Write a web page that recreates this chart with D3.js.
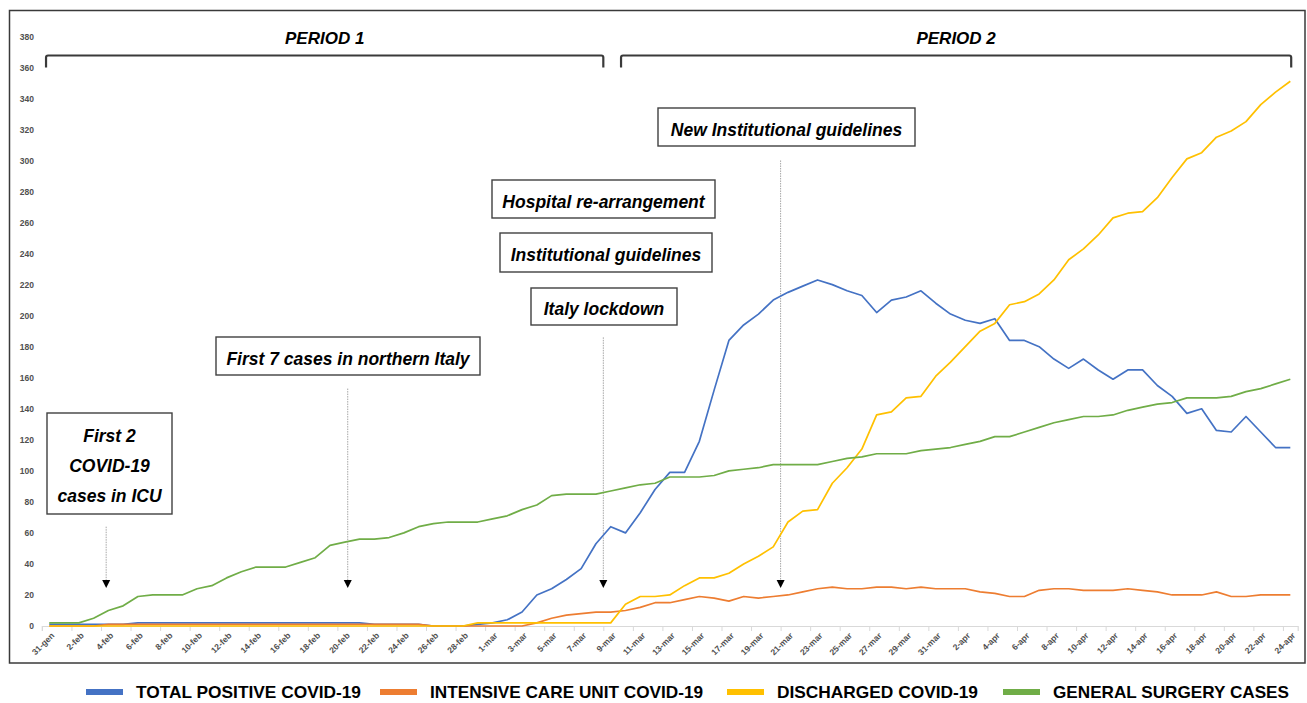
<!DOCTYPE html>
<meta charset="utf-8">

<head>
  <title>COVID-19 and general surgery</title>
  <style>
    body {
      margin: 0;
      background: #fff;
    }

    svg {
      display: block;
      font-family: 'Liberation Sans', Arial, sans-serif;
    }
  </style>

  <script src="https://d3js.org/d3.v7.min.js"></script>
</head>

<body>
  <div id="content">
    <svg width="1307" height="703"></svg>
  </div>

  <script>
    // categories: one per day, 31 Jan - 24 Apr 2020
    var monthNames = ['gen', 'feb', 'mar', 'apr'];
    var days = d3.timeDay.range(new Date(2020, 0, 31), new Date(2020, 3, 25));
    var categories = days.map(function (d) { return d.getDate() + '-' + monthNames[d.getMonth()]; });

    // series values
    var totalPositive = [1, 1, 1, 1, 1, 1, 2, 2, 2, 2, 2, 2, 2, 2, 2, 2, 2, 2, 2, 2, 2, 2, 1, 1, 1, 1, 0, 0, 0, 1,
      2, 4, 9, 20, 24, 30, 37, 53, 64, 60, 73, 88, 99, 99, 119, 152, 184, 194, 201, 210, 215, 219, 223, 220, 216,
      213, 202, 210, 212, 216, 208, 201, 197, 195, 198, 184, 184, 180, 172, 166, 172, 165, 159, 165, 165, 155,
      148, 137, 140, 126, 125, 135, 125, 115, 115];
    var icu = [0, 0, 0, 0, 1, 1, 1, 1, 1, 1, 1, 1, 1, 1, 1, 1, 1, 1, 1, 1, 1, 1, 1, 1, 1, 1, 0, 0, 0, 0, 0, 0, 0,
      2, 5, 7, 8, 9, 9, 10, 12, 15, 15, 17, 19, 18, 16, 19, 18, 19, 20, 22, 24, 25, 24, 24, 25, 25, 24, 25, 24,
      24, 24, 22, 21, 19, 19, 23, 24, 24, 23, 23, 23, 24, 23, 22, 20, 20, 20, 22, 19, 19, 20, 20, 20];
    var discharged = [0, 0, 0, 0, 0, 0, 0, 0, 0, 0, 0, 0, 0, 0, 0, 0, 0, 0, 0, 0, 0, 0, 0, 0, 0, 0, 0, 0, 0,
      2, 2, 2, 2, 2, 2, 2, 2, 2, 2,
      14, 19, 19, 20, 26, 31, 31, 34, 40, 45, 51, 67, 74, 75, 92, 102, 114, 136, 138, 147, 148, 161, 170, 180,
      190, 195, 207, 209, 214, 223, 236, 243, 252, 263, 266, 267, 276, 289, 301, 305, 315, 319, 325, 336, 344, 351];
    var surgery = [2, 2, 2, 5, 10, 13, 19, 20, 20, 20, 24, 26, 31, 35, 38, 38, 38, 41, 44, 52,
      54, 56, 56, 57, 60, 64, 66, 67, 67, 67, 69, 71, 75, 78, 84, 85, 85, 85, 87, 89,
      91, 92, 96, 96, 96, 97, 100, 101, 102, 104, 104, 104, 104, 106, 108, 109, 111, 111, 111, 113,
      114, 115, 117, 119, 122, 122, 125, 128, 131, 133, 135, 135, 136, 139, 141, 143, 144, 147, 147, 147,
      148, 151, 153, 156, 159];

    var seriesNames = ['TOTAL POSITIVE COVID-19', 'INTENSIVE CARE UNIT COVID-19', 'DISCHARGED COVID-19', 'GENERAL SURGERY CASES'];
    var seriesColors = ['#4472C4', '#ED7D31', '#FFC000', '#70AD47'];
    var seriesValues = [totalPositive, icu, discharged, surgery];

    var yTicks = d3.range(0, 381, 20);

    // annotations: arrows (day index, value range) and boxes
    var arrows = [
      { day: 3.85, from: 64 },
      { day: 20.2, from: 153 },
      { day: 37.5, from: 186 },
      { day: 49.5, from: 300 }
    ];
    var boxes = [
      { x0: 47, x1: 172, y0: 413, y1: 514, lines: ['First 2', 'COVID-19', 'cases in ICU'] },
      { x0: 216, x1: 480, y0: 337, y1: 375, lines: ['First 7 cases in northern Italy'] },
      { x0: 492, x1: 715, y0: 180, y1: 218, lines: ['Hospital re-arrangement'] },
      { x0: 500, x1: 712, y0: 233, y1: 272, lines: ['Institutional guidelines'] },
      { x0: 531, x1: 677, y0: 288, y1: 325, lines: ['Italy lockdown'] },
      { x0: 658, x1: 915, y0: 108, y1: 146, lines: ['New Institutional guidelines'] }
    ];
    var periods = [
      { label: 'PERIOD 1', from: -0.22, to: 37.5 },
      { label: 'PERIOD 2', from: 38.7, to: 84.06 }
    ];

    var svg = d3.select('#content svg');

    var x = d3.scaleLinear().domain([-0.5, 84.5]).range([41.9, 1297.7]);
    var y = d3.scaleLinear().domain([0, 380]).range([626, 36.3]);

    // outer frame
    svg.append('rect')
      .attr('x', 9.5).attr('y', 10.5)
      .attr('width', 1295.5).attr('height', 652.5)
      .attr('fill', 'none')
      .attr('stroke', '#3a3a3a')
      .attr('stroke-width', 1.5);

    // y axis (labels only)
    var yAxis = svg.append('g')
      .attr('transform', 'translate(34,0)')
      .call(d3.axisLeft(y).tickValues(yTicks).tickSize(0).tickPadding(0));
    yAxis.select('.domain').remove();
    yAxis.selectAll('text')
      .attr('fill', '#505050')
      .style('font-size', '8.5px')
      .style('font-weight', 'bold');

    // x axis: ticks between categories every 2 days
    var tickPos = d3.range(-0.5, 84, 2);
    var xAxis = svg.append('g')
      .attr('transform', 'translate(0,' + y(0) + ')')
      .call(d3.axisBottom(x).tickValues(tickPos).tickSize(5).tickFormat(''));
    xAxis.select('.domain').attr('stroke', '#d9d9d9').attr('stroke-width', 1.2);
    xAxis.selectAll('.tick line').attr('stroke', '#d9d9d9');

    // x labels, every second category, rotated
    var labelIdx = d3.range(0, 85, 2);
    var xLabels = svg.append('g')
      .attr('transform', 'translate(0,' + y(0) + ')')
      .call(d3.axisBottom(x).tickValues(labelIdx).tickSize(0)
        .tickFormat(function (i) { return categories[i]; }));
    xLabels.select('.domain').remove();
    xLabels.selectAll('text')
      .attr('x', 0).attr('y', 0).attr('dy', '0.35em')
      .attr('text-anchor', 'end')
      .attr('transform', 'translate(3,8) rotate(-45)')
      .attr('fill', '#505050')
      .style('font-size', '8.5px')
      .style('font-weight', 'bold');

    // period brackets
    var bracket = svg.append('g');
    periods.forEach(function (p) {
      var x0 = x(p.from), x1 = x(p.to);
      bracket.append('path')
        .attr('d', 'M' + x0 + ',' + 67.5 + 'V' + 57.5 + 'Q' + x0 + ',55.5 ' + (x0 + 2) + ',55.5' +
          'H' + (x1 - 2) + 'Q' + x1 + ',55.5 ' + x1 + ',57.5V67.5')
        .attr('fill', 'none')
        .attr('stroke', '#3a3a3a')
        .attr('stroke-width', 2.2);
      bracket.append('text')
        .attr('x', (x0 + x1) / 2)
        .attr('y', 44)
        .attr('text-anchor', 'middle')
        .style('font-size', '17px')
        .style('font-weight', 'bold')
        .style('font-style', 'italic')
        .text(p.label);
    });

    // arrows
    var arrowG = svg.append('g');
    arrows.forEach(function (a) {
      var ax = x(a.day), tip = 588;
      arrowG.append('line')
        .attr('x1', ax).attr('x2', ax)
        .attr('y1', y(a.from)).attr('y2', tip - 7)
        .attr('stroke', '#a6a6a6')
        .attr('stroke-width', 1)
        .attr('stroke-dasharray', '1.5,1');
      arrowG.append('path')
        .attr('d', 'M' + (ax - 4) + ',' + (tip - 8) + 'L' + (ax + 4) + ',' + (tip - 8) + 'L' + ax + ',' + tip + 'Z')
        .attr('fill', '#000');
    });

    // boxes
    var boxG = svg.append('g');
    boxes.forEach(function (b) {
      boxG.append('rect')
        .attr('x', b.x0).attr('y', b.y0)
        .attr('width', b.x1 - b.x0).attr('height', b.y1 - b.y0)
        .attr('fill', '#fff')
        .attr('stroke', '#404040')
        .attr('stroke-width', 1.4);
      var n = b.lines.length;
      var cy = (b.y0 + b.y1) / 2;
      b.lines.forEach(function (t, k) {
        boxG.append('text')
          .attr('x', (b.x0 + b.x1) / 2)
          .attr('y', cy + 8.5 + (k - (n - 1) / 2) * 30)
          .attr('text-anchor', 'middle')
          .style('font-size', '17.5px')
          .style('font-weight', 'bold')
          .style('font-style', 'italic')
          .text(t);
      });
    });

    // lines
    var line = d3.line()
      .x(function (d, i) { return x(i); })
      .y(function (d) { return y(d); });

    svg.append('g')
      .selectAll('path')
      .data(seriesValues)
      .join('path')
      .attr('d', line)
      .attr('fill', 'none')
      .attr('stroke', function (d, i) { return seriesColors[i]; })
      .attr('stroke-width', 1.7)
      .attr('stroke-linejoin', 'round');

    // legend (condensed bold text, widths fitted to the original)
    var legendX = [86, 380, 727, 1003];
    var legendW = [225, 273, 201, 236];
    var legend = svg.append('g');
    seriesNames.forEach(function (name, i) {
      legend.append('rect')
        .attr('x', legendX[i]).attr('y', 689)
        .attr('width', 37).attr('height', 6)
        .attr('fill', seriesColors[i]);
      legend.append('text')
        .attr('x', legendX[i] + 50).attr('y', 698)
        .attr('textLength', legendW[i])
        .attr('lengthAdjust', 'spacingAndGlyphs')
        .style('font-size', '17px')
        .style('font-weight', 'bold')
        .attr('fill', '#000')
        .text(name);
    });
  </script>
</body>

</html>
